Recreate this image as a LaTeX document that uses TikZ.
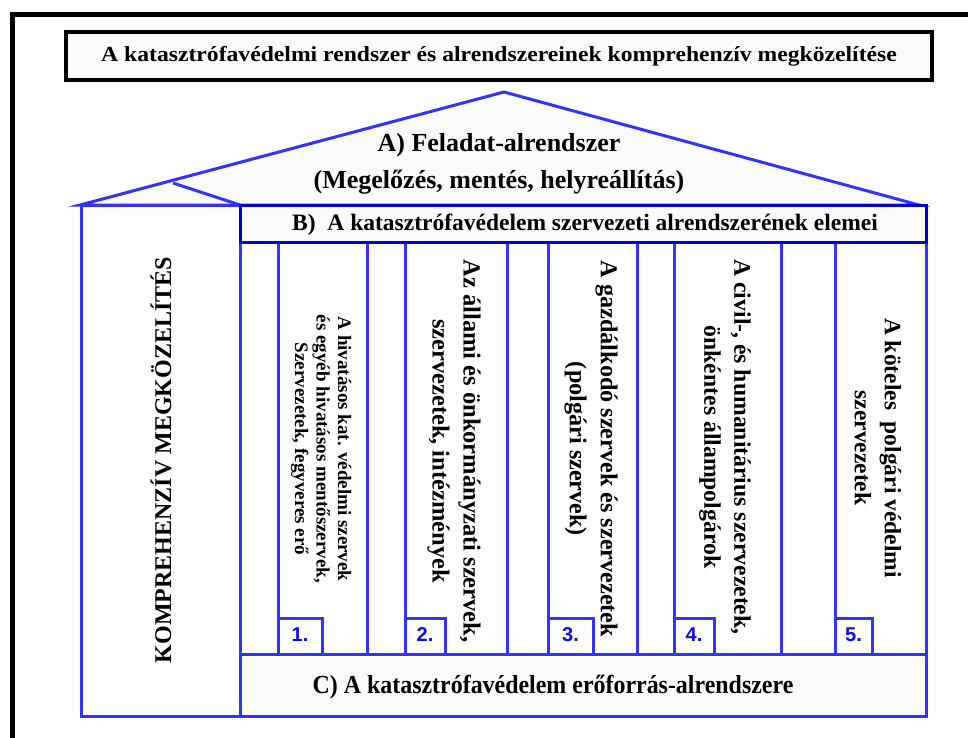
\documentclass[tikz,border=0pt]{standalone}
\usepackage{fontspec}
\setmainfont{Liberation Serif}
\newfontfamily\numfont{Liberation Sans}
\definecolor{houseblue}{RGB}{51,51,255}
\definecolor{deepblue}{RGB}{0,0,210}
\definecolor{numblue}{RGB}{10,10,235}
\definecolor{paper}{RGB}{250,250,248}
\newcommand{\fs}[2]{\bfseries\fontsize{#1}{#2}\selectfont}
\tikzset{
  wall/.style={draw=houseblue, line width=3pt, fill=white},
  numbox/.style={draw=houseblue, line width=3pt, fill=white},
  numlabel/.style={font=\numfont\bfseries\fontsize{20}{22}\selectfont, text=numblue, inner sep=0pt},
  pillartext/.style={rotate=-90, align=center, inner sep=0pt}
}
\begin{document}
\begin{tikzpicture}[x=1pt, y=-1pt, line join=miter]
	\useasboundingbox (0,0) rectangle (968,738);
	% outer frame, only top and left edges visible
	\draw[line width=5pt] (968,15) -- (12,15) -- (12,738);
	% title
	\draw[line width=4pt, fill=paper] (66,32) rectangle (932,80);
	\node[font=\fs{21.5}{24}] (title) at (499,56) {\scalebox{1.1}[1]{A katasztrófavédelmi rendszer és alrendszereinek komprehenzív megközelítése}};
	% roof
	\path 
	(80,205) coordinate (L)
	(504,92) coordinate (T)
	(919,205) coordinate (R)
	(173,183) coordinate (K)
	(240,205) coordinate (S);
	\draw[houseblue, line width=3pt, fill=paper] (L)--(T)--(R)--cycle;
	\draw[houseblue, line width=3pt] (K)--(S);
	\node[font=\fs{26}{37}, align=center] (roof) at (499,164) {A) Feladat-alrendszer\\(Megelőzés, mentés, helyreállítás)};
	% left wall
	\draw[wall] (81,205) rectangle (240,716);
	\node[font=\fs{24}{26}, rotate=90] (kompr) at (161,460) {KOMPREHENZÍV MEGKÖZELÍTÉS};
	% pillar area
	\draw[wall] (240,242) rectangle (926,654);
	\foreach \l/\r/\w/\n in {278/367/44/1, 405/507/40/2, 548/637/45/3, 674/781/40/4, 835/926/37/5}{
		\draw[wall] (\l,242) rectangle (\r,654);
		\draw[numbox] (\l,618) rectangle ({\l+\w},654);
		\node[numlabel] (n\n) at ({\l+\w/2},635) {\n.};
	}
	\node[pillartext, font=\fs{19}{21.5}] (p1) at (321,449) {A hivatásos kat. védelmi szervek\\és egyéb hivatásos mentőszervek,\\Szervezetek, fegyveres erő};
	\node[pillartext, font=\fs{24.5}{31}] (p2) at (454,451) {Az állami és önkormányzati szervek,\\szervezetek, intézmények};
	\node[pillartext, font=\fs{24.2}{31}] (p3) at (591,449) {A gazdálkodó szervek és szervezetek\\(polgári szervek)};
	\node[pillartext, font=\fs{23.7}{30}] (p4) at (725,447) {A civil-, és humanitárius szervezetek,\\önkéntes állampolgárok};
	\node[pillartext, font=\fs{23.5}{30}] (p5) at (878,448) {A köteles~~polgári védelmi\\szervezetek};
	% B box
	\draw[draw=deepblue, line width=3pt, fill=paper] (240,205) rectangle (926,242);
	\node[font=\fs{23.5}{25}] (subB) at (585,225) {B)~~A katasztrófavédelem szervezeti alrendszerének elemei};
	% C box
	\draw[draw=houseblue, line width=3pt, fill=paper] (240,654) rectangle (926,716);
	\node[font=\fs{26}{28}] (subC) at (553,687) {\scalebox{0.92}[1]{C) A katasztrófavédelem erőforrás-alrendszere}};
\end{tikzpicture}
\end{document}
